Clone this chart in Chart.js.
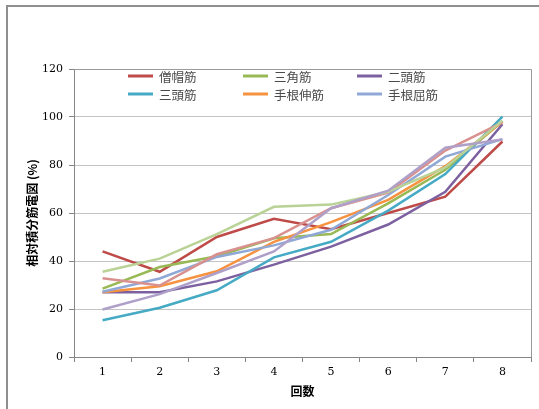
<!DOCTYPE html>
<html>
<head>
<meta charset="utf-8">
<script src="https://cdn.jsdelivr.net/npm/chart.js@4"></script>
<style>
  body { margin: 0; background: #fff; }
  #wrap { position: relative; width: 539px; height: 409px; overflow: hidden; }
  #frame { position: absolute; left: 6px; top: 5px; width: 560px; height: 430px; border: 2px solid #8f8f8f; }
  canvas { position: absolute; left: 0; top: 0; }
</style>
</head>
<body>
<div id="wrap">
  <div id="frame"></div>
  <canvas id="grafico" width="539" height="409"></canvas>
</div>
<script>
// categorias (回数)
const kaisu = ['1', '2', '3', '4', '5', '6', '7', '8'];

// valores (%)
const soubou = [44, 35.5, 50, 57.6, 53.2, 60, 66.8, 89.8];      // 僧帽筋
const sankaku = [28.5, 37.5, 42, 49.5, 51.2, 64, 78, 98.2];     // 三角筋
const nitou = [27, 27, 31.5, 38.5, 46, 55.2, 68.8, 97];         // 二頭筋
const santou = [15.3, 20.5, 27.8, 41.5, 48, 61, 76.2, 100.2];   // 三頭筋
const shinkin = [27, 29.5, 35.7, 48, 56.2, 65.5, 79.5, 98];     // 手根伸筋
const kukkin = [27.2, 32.7, 41.7, 46.5, 53, 67.5, 83.5, 90.8];  // 手根屈筋
const kei7 = [32.8, 29.8, 42.8, 49.5, 62, 68.5, 86, 97.8];
const kei8 = [35.5, 41, 51.2, 62.6, 63.5, 68.8, 79, 98.5];
const kei9 = [19.8, 26.2, 35, 44, 62, 69.3, 87.2, 90.6];

const nomes = ['僧帽筋', '三角筋', '二頭筋', '三頭筋', '手根伸筋', '手根屈筋', '系列7', '系列8', '系列9'];
const series = [soubou, sankaku, nitou, santou, shinkin, kukkin, kei7, kei8, kei9];
const cores = ['#BE4B48', '#98B954', '#7D60A0', '#46AAC5', '#F69240', '#8FA8D6', '#D9918F', '#B9D295', '#AFA0C9'];

const yTicks = [0, 20, 40, 60, 80, 100, 120];

// legenda fixa (3 colunas x 2 linhas) dentro da área do gráfico
const legendaX = [128, 243, 357];
const legendaY = [76, 94];

const legendaPlugin = {
    id: 'legendaFixa',
    afterDraw(chart) {
        const ctx = chart.ctx;
        ctx.save();
        ctx.font = '12.5px "Noto Sans CJK JP"';
        ctx.textBaseline = 'middle';
        chart.data.datasets.slice(0, 6).forEach((ds, i) => {
            const x = legendaX[i % 3];
            const y = legendaY[Math.floor(i / 3)];
            ctx.strokeStyle = ds.borderColor;
            ctx.lineWidth = 3;
            ctx.beginPath();
            ctx.moveTo(x, y);
            ctx.lineTo(x + 25, y);
            ctx.stroke();
            ctx.fillStyle = '#4a4a4a';
            ctx.fillText(ds.label, x + 31, y + 1);
        });
        ctx.restore();
    }
};

// borda direita da área de plotagem
const molduraPlugin = {
    id: 'moldura',
    beforeDatasetsDraw(chart) {
        const a = chart.chartArea;
        const ctx = chart.ctx;
        ctx.save();
        ctx.strokeStyle = '#9a9a9a';
        ctx.lineWidth = 1;
        ctx.beginPath();
        ctx.moveTo(a.left, Math.round(a.top) + 0.5);
        ctx.lineTo(Math.round(a.right) + 0.5, Math.round(a.top) + 0.5);
        ctx.lineTo(Math.round(a.right) + 0.5, a.bottom);
        ctx.stroke();
        ctx.restore();
    }
};

const data = {
    labels: kaisu,
    datasets: series.map((valores, i) => ({
        label: nomes[i],
        data: valores,
        borderColor: cores[i],
        backgroundColor: cores[i],
        borderWidth: 2.5,
        pointRadius: 0,
        tension: 0,
        fill: false,
        order: series.length - i
    }))
};

const ctx = document.getElementById('grafico').getContext('2d');

const myChart = new Chart(ctx, {
    type: 'line',
    data: data,
    plugins: [molduraPlugin, legendaPlugin],
    options: {
        responsive: false,
        animation: false,
        layout: { padding: { left: 21, right: 8, top: 69, bottom: 6 } },
        plugins: {
            legend: { display: false },
            tooltip: { enabled: false }
        },
        scales: {
            x: {
                offset: true,
                grid: {
                    offset: true,
                    drawOnChartArea: false,
                    tickLength: 5,
                    tickColor: '#868686'
                },
                border: { color: '#868686', width: 1 },
                ticks: {
                    color: '#000',
                    padding: 4,
                    font: { family: '"DejaVu Serif"', size: 11 }
                },
                title: {
                    display: true,
                    text: '回数',
                    color: '#000',
                    padding: { top: 4, bottom: 4 },
                    font: { family: '"Noto Sans CJK JP"', size: 12, weight: 'bold' }
                },
                afterFit: function(scale) {
                    scale.height = 46;
                }
            },
            y: {
                min: 0,
                max: 120,
                afterBuildTicks: function(scale) {
                    scale.ticks = yTicks.map(v => ({ value: v }));
                },
                grid: {
                    color: '#c4c4c4',
                    tickLength: 5,
                    tickColor: '#868686'
                },
                border: { color: '#868686', width: 1 },
                ticks: {
                    color: '#000',
                    padding: 6,
                    font: { family: '"DejaVu Serif"', size: 11 }
                },
                title: {
                    display: true,
                    text: '相対積分筋電図 (%)',
                    color: '#000',
                    padding: { top: 4, bottom: 4 },
                    font: { family: '"Noto Sans CJK JP"', size: 12, weight: 'bold' }
                },
                afterFit: function(scale) {
                    scale.width = 53;
                }
            }
        }
    }
});
</script>
</body>
</html>
